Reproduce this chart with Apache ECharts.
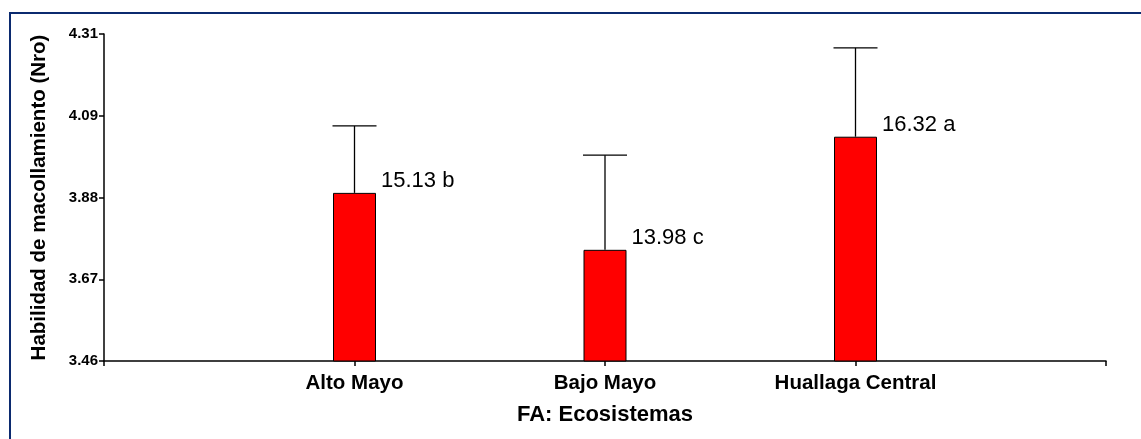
<!DOCTYPE html>
<html>
<head>
<meta charset="utf-8">
<script src="https://cdn.jsdelivr.net/npm/echarts@6/dist/echarts.min.js"></script>
<style>
  html, body { margin: 0; padding: 0; background: #fff; }
  #chart { width: 1141px; height: 439px; }
</style>
</head>
<body>
<div id="chart"></div>
<script>
// valores
var categories = ["Alto Mayo", "Bajo Mayo", "Huallaga Central"];
var means = [3.897, 3.749, 4.043];
var upper = [4.071, 3.995, 4.274];
var pointLabels = ["15.13 b", "13.98 c", "16.32 a"];
var yTickLabels = ["3.46", "3.67", "3.88", "4.09", "4.31"];

var yMin = 3.46, yMax = 4.31;
var yStep = (yMax - yMin) / 4;

// eje con un hueco a cada lado
var axisCats = [""].concat(categories, [""]);
var barData = ["-"];
var errData = [];
for (var i = 0; i < categories.length; i++) {
  barData.push({ value: means[i], label: { formatter: pointLabels[i] } });
  errData.push([i + 1, means[i], upper[i]]);
}
barData.push("-");

var font = "'Liberation Sans', Arial, sans-serif";
var myChart = echarts.init(document.getElementById("chart"));
window.onresize = myChart.resize;

var option = {
  animation: false,
  backgroundColor: "#fff",
  textStyle: { fontFamily: font },
  graphic: [
    {
      type: "rect",
      shape: { x: 10, y: 13, width: 1300, height: 600 },
      style: { fill: "none", stroke: "#0b2a6f", lineWidth: 2 },
      silent: true
    }
  ],
  grid: { left: 104, right: 35, top: 34, bottom: 78 },
  xAxis: {
    type: "category",
    data: axisCats,
    boundaryGap: false,
    name: "FA: Ecosistemas",
    nameLocation: "middle",
    nameGap: 43,
    nameTextStyle: { fontSize: 22, fontWeight: "bold", color: "#000", fontFamily: font },
    axisLine: { lineStyle: { color: "#000", width: 1.5 } },
    axisTick: { show: true, length: 5, alignWithLabel: true, lineStyle: { color: "#000", width: 1.5 } },
    axisLabel: { fontSize: 20.5, fontWeight: "bold", color: "#000", margin: 12, interval: 0, fontFamily: font },
    splitLine: { show: false }
  },
  yAxis: {
    type: "value",
    min: yMin,
    max: yMax,
    interval: yStep,
    name: "Habilidad de macollamiento (Nro)",
    nameLocation: "middle",
    nameGap: 54,
    nameTextStyle: { fontSize: 20.5, fontWeight: "bold", color: "#000", fontFamily: font },
    axisLine: { show: true, lineStyle: { color: "#000", width: 1.5 } },
    axisTick: { show: true, length: 5, lineStyle: { color: "#000", width: 1.5 } },
    axisLabel: {
      fontSize: 15,
      fontWeight: "bold",
      color: "#000",
      margin: 6,
      showMaxLabel: true,
      fontFamily: font,
      formatter: function (v) {
        var k = Math.round((v - yMin) / yStep);
        return yTickLabels[k] !== undefined ? yTickLabels[k] : "";
      }
    },
    splitLine: { show: false }
  },
  series: [
    {
      type: "bar",
      data: barData,
      barWidth: 43,
      itemStyle: { color: "#ff0000", borderColor: "#000", borderWidth: 1 },
      label: {
        show: true,
        position: ["100%", 0],
        offset: [5, -12],
        align: "left",
        verticalAlign: "middle",
        fontSize: 22,
        color: "#000",
        fontFamily: font
      },
      z: 2
    },
    {
      type: "custom",
      data: errData,
      z: 3,
      renderItem: function (params, api) {
        var x = api.value(0);
        var lo = api.coord([x, api.value(1)]);
        var hi = api.coord([x, api.value(2)]);
        var half = 22;
        var st = { stroke: "#000", lineWidth: 1.3 };
        return {
          type: "group",
          children: [
            { type: "line", shape: { x1: lo[0], y1: lo[1], x2: hi[0], y2: hi[1] }, style: st },
            { type: "line", shape: { x1: hi[0] - half, y1: hi[1], x2: hi[0] + half, y2: hi[1] }, style: st }
          ]
        };
      }
    }
  ]
};
myChart.setOption(option);
</script>
</body>
</html>
